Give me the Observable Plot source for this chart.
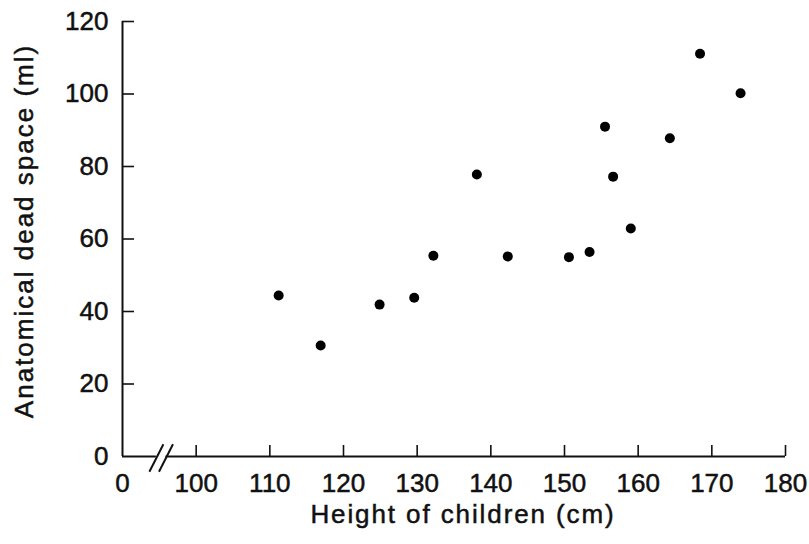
<!DOCTYPE html>
<html><head><meta charset="utf-8">
<script src="https://cdn.jsdelivr.net/npm/d3@7"></script>
<script src="https://cdn.jsdelivr.net/npm/@observablehq/plot@0.6"></script>
<style>body{margin:0;background:#fff}</style>
</head><body><div id="chart"></div>
<script>
// Data
const heights   = [111.2, 116.9, 124.9, 129.6, 132.2, 138.1, 142.3, 150.6, 153.4, 155.5, 156.6, 159.0, 164.3, 168.4, 173.9];
const deadSpace = [44.4, 30.6, 41.9, 43.8, 55.4, 77.8, 55.2, 55.0, 56.4, 91.0, 77.2, 62.9, 87.8, 111.1, 100.2];

// Axis ticks (x axis is broken: the "0" sits where 90 would be)
const xTickValues = [90, 100, 110, 120, 130, 140, 150, 160, 170, 180];
const xTickLabels = ["0", "100", "110", "120", "130", "140", "150", "160", "170", "180"];
const xTickMarks  = [100, 110, 120, 130, 140, 150, 160, 170, 180];
const yTickValues = [0, 20, 40, 60, 80, 100, 120];
const yTickMarks  = [20, 40, 60, 80, 100, 120];
const xBreak = [94.6, 95.9];

const xTitle = "Height of children (cm)";
const yTitle = "Anatomical dead space (ml)";

const points = heights.map((h, i) => ({height: h, dead: deadSpace[i]}));
const xDomain = [xTickValues[0], xTickValues[xTickValues.length - 1]];
const yDomain = [yTickValues[0], yTickValues[yTickValues.length - 1]];
const axisSegments = [
  {x1: xDomain[0], x2: xBreak[0]},
  {x1: xBreak[1], x2: xDomain[1]}
];
const slashes = xBreak.map(b => ({x1: b - 0.95, x2: b + 0.95, y1: -4.2, y2: 3.4}));

const chart = Plot.plot({
  width: 809,
  height: 544,
  marginLeft: 122,
  marginRight: 24,
  marginTop: 21,
  marginBottom: 88,
  style: {fontFamily: "'Liberation Sans', Arial, Helvetica, sans-serif", fontSize: "26px", color: "#111", background: "#fff"},
  x: {domain: xDomain, label: null},
  y: {domain: yDomain, label: null},
  marks: [
    // tick labels
    Plot.axisX(xTickValues, {tickSize: 0, tickPadding: 17, fontSize: 26, tickFormat: (d) => xTickLabels[xTickValues.indexOf(d)], label: null}),
    Plot.axisY(yTickValues, {tickSize: 0, tickPadding: 14, fontSize: 26, label: null}),
    // inward tick marks
    Plot.axisX(xTickMarks, {tickSize: -11, tickFormat: () => "", strokeWidth: 1.6, label: null}),
    Plot.axisY(yTickMarks, {tickSize: -12, tickFormat: () => "", strokeWidth: 1.6, label: null}),
    // axis lines
    Plot.ruleX([xDomain[0]], {y1: yDomain[0], y2: yDomain[1], strokeWidth: 2}),
    Plot.ruleY(axisSegments, {y: () => 0, x1: "x1", x2: "x2", strokeWidth: 2}),
    Plot.link(slashes, {x1: "x1", x2: "x2", y1: "y1", y2: "y2", strokeWidth: 2}),
    // data
    Plot.dot(points, {x: "height", y: "dead", r: 5, fill: "#000", stroke: null}),
    // titles
    Plot.text([xTitle], {frameAnchor: "bottom", textAnchor: "middle", dx: 9, dy: 66, fontSize: 26, text: d => d}),
    Plot.text([yTitle], {frameAnchor: "left", textAnchor: "middle", dx: -98, dy: -8, rotate: -90, fontSize: 26, text: d => d})
  ]
});
d3.select(chart).selectAll("text").filter(function() { return this.textContent === xTitle; }).attr("letter-spacing", "1.9px");
d3.select(chart).selectAll("text").filter(function() { return this.textContent === yTitle; }).attr("letter-spacing", "2px");
d3.select(chart).selectAll("text").attr("stroke", "#111").attr("stroke-width", 0.5);
document.getElementById("chart").appendChild(chart);
</script>
</body></html>
